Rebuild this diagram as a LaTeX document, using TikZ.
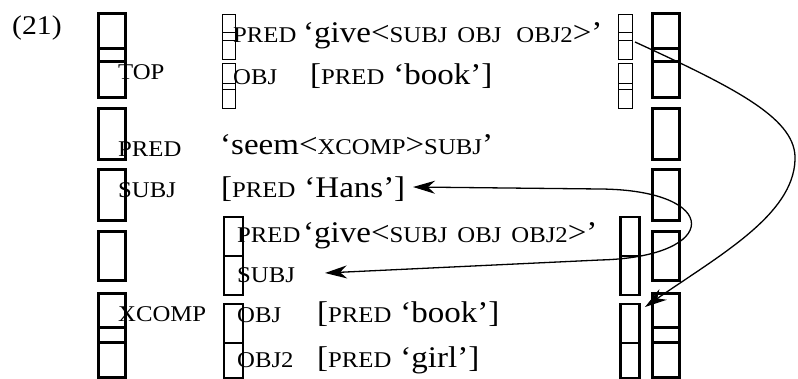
\documentclass[tikz,border=0pt]{standalone}
\usepackage{fontspec}
\setmainfont{Liberation Serif}[FakeStretch=1.1]
\usetikzlibrary{arrows.meta}
\def\attr#1{{\fontsize{22.5}{22.5}\selectfont #1}}

\tikzset{
	outerbrk/.style={line width=3pt},
	xcompbrk/.style={line width=2.4pt},
	thinbrk/.style={line width=1pt},
	txt/.style={anchor=base west, inner sep=0pt, font=\fontsize{30}{30}\selectfont},
	tip/.tip={Stealth[length=22pt, width=13pt, inset=7pt]},
	link/.style={line width=1.3pt, -tip},
}

\begin{document}
\begin{tikzpicture}[x=1pt, y=-1pt]
			%%%%% START %%%%%
			\useasboundingbox (0, 0) rectangle (798, 379);
			
			% outer brackets, left and right
			\foreach \ya/\yb in {13.5/61.5, 48.5/97.5, 108.5/159.5, 169.5/220.5, 231.5/280.5, 293.5/342.5, 327.5/377.5}{
				\draw[outerbrk] (98.5, \ya) rectangle (125.5, \yb);
				\draw[outerbrk] (652.5, \ya) rectangle (679.5, \yb);
			}
			
			% brackets of TOP
			\foreach \ya/\yb in {14.5/40.5, 32.5/59.5, 63.5/89.5, 83.5/108.5}{
				\draw[thinbrk] (222.5, \ya) rectangle (235.5, \yb);
				\draw[thinbrk] (618.5, \ya) rectangle (632.5, \yb);
			}
			
			% brackets of XCOMP
			\foreach \ya/\yb in {217.2/255.8, 256.2/294.8, 304.2/342.8, 343.2/377.8}{
				\draw[xcompbrk] (224, \ya) rectangle (243, \yb);
				\draw[xcompbrk] (620.5, \ya) rectangle (639.5, \yb);
			}
			
			\node[txt, font=\fontsize{27}{27}\selectfont] (num) at (12, 35) {(21)};
			
			% TOP
			\node[txt] (top) at (118, 80) {\attr{TOP}};
			\node[txt] (tpred) at (233, 43) {\attr{PRED}};
			\node[txt] (tgive) at (303, 43) {‘give<\attr{SUBJ}\hspace{10pt}\attr{OBJ}\hspace{15pt}\attr{OBJ2}>’};
			\node[txt] (tobj) at (233, 85) {\attr{OBJ}};
			\node[txt] (tbook) at (310, 85) {[\attr{PRED}\hspace{9pt}‘book’]};
			
			% PRED and SUBJ
			\node[txt] (pred) at (118, 157) {\attr{PRED}};
			\node[txt] (seem) at (220, 155) {‘seem<\attr{XCOMP}>\attr{SUBJ}’};
			\node[txt] (subj) at (118, 198) {\attr{SUBJ}};
			\node[txt] (hans) at (221, 198) {[\attr{PRED}\hspace{9pt}‘Hans’]};
			
			% XCOMP
			\node[txt] (xcomp) at (118, 322) {\attr{XCOMP}};
			\node[txt] (xpred) at (237, 243) {\attr{PRED}};
			\node[txt] (xgive) at (303, 243) {‘give<\attr{SUBJ}\hspace{10pt}\attr{OBJ}\hspace{10pt}\attr{OBJ2}>’};
			\node[txt] (xsubj) at (237, 283) {\attr{SUBJ}};
			\node[txt] (xobj) at (237, 323) {\attr{OBJ}};
			\node[txt] (xbook) at (317, 323) {[\attr{PRED}\hspace{9pt}‘book’]};
			\node[txt] (xobjtwo) at (237, 367) {\attr{OBJ2}};
			\node[txt] (girl) at (317, 367) {[\attr{PRED}\hspace{9pt}‘girl’]};
			
			% ends of the links
			\coordinate (hansend) at (413, 187);
			\coordinate (subjend) at (325, 273);
			\coordinate (objtwoend) at (635, 42);
			\coordinate (objend) at (645, 307);
			
			\draw[link, tip-tip] (hansend) -- (600, 189)
				.. controls (722, 190) and (722, 257) .. (600, 260) -- (subjend);
			\draw[link] (objtwoend) .. controls (740, 90) and (797, 120) .. (795, 160)
				.. controls (793, 215) and (720, 255) .. (objend);
			
			%%%%% END %%%%%
\end{tikzpicture}
\end{document}
